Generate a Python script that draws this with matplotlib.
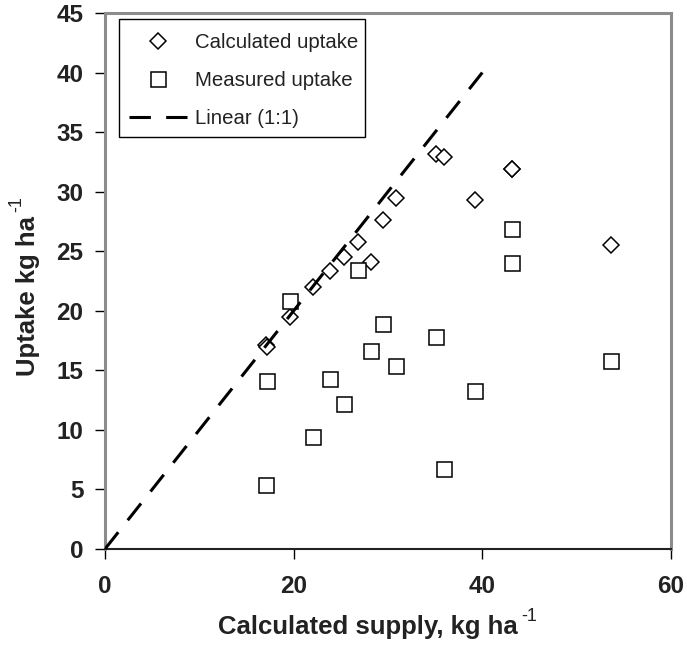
import matplotlib
matplotlib.use("Agg")
import matplotlib.pyplot as plt
from matplotlib.patches import Rectangle

plt.rcParams['font.family'] = ['Liberation Sans', 'DejaVu Sans']

# Calculated supply (x) for each plot, kg/ha
supply = [17.1, 17.2, 19.6, 22.0, 23.9, 25.3, 26.8, 28.2, 29.5,
          30.9, 35.1, 35.9, 39.2, 43.1, 43.1, 53.6]
# Calculated uptake for each plot, kg/ha
calc_uptake = [17.1, 17.0, 19.5, 22.0, 23.3, 24.5, 25.8, 24.1, 27.6,
               29.5, 33.2, 32.9, 29.3, 31.9, 31.9, 25.5]
# Measured uptake for each plot, kg/ha
meas_uptake = [5.4, 14.1, 20.8, 9.4, 14.3, 12.2, 23.4, 16.6, 18.9,
               15.4, 17.8, 6.7, 13.3, 26.9, 24.0, 15.8]
# 1:1 reference line
line_x = [0, 40]
line_y = [0, 40]

x_ticks = [0, 20, 40, 60]
y_ticks = [0, 5, 10, 15, 20, 25, 30, 35, 40, 45]

TXT = '#222222'

fig = plt.figure(figsize=(6.87, 6.5), dpi=100)
ax = fig.add_axes([0.1528, 0.1554, 0.8239, 0.8246])

ax.plot(supply, calc_uptake, linestyle='none', marker='D', markersize=8.5,
        markerfacecolor='white', markeredgecolor='black', markeredgewidth=1.1,
        label='Calculated uptake', zorder=3)
ax.plot(supply, meas_uptake, linestyle='none', marker='s', markersize=10.8,
        markerfacecolor='white', markeredgecolor='black', markeredgewidth=1.1,
        label='Measured uptake', zorder=3)
ax.plot(line_x, line_y, color='black', linewidth=2.2, dashes=(7, 5),
        label='Linear (1:1)', zorder=4)

ax.set_xlim(0, 60)
ax.set_ylim(0, 45)
ax.set_xticks(x_ticks)
ax.set_yticks(y_ticks)
ax.tick_params(axis='both', direction='out', length=7, width=1, color='black',
               labelsize=17.5, labelcolor=TXT)
ax.tick_params(axis='y', pad=8.5)
ax.tick_params(axis='x', pad=12)
for lab in ax.get_xticklabels() + ax.get_yticklabels():
    lab.set_fontweight('bold')

for side in ('top', 'right', 'left'):
    ax.spines[side].set_color('#8c8c8c')
    ax.spines[side].set_linewidth(2.2)
ax.spines['bottom'].set_color(TXT)
ax.spines['bottom'].set_linewidth(1.5)

# Axis titles with a small plain "-1" exponent
ax.set_xlabel('Calculated supply, kg ha', fontsize=18.5, fontweight='bold',
              color=TXT, labelpad=12)
ax.xaxis.label.set_x(0.4638)
ax.set_ylabel('Uptake kg ha', fontsize=18.5, fontweight='bold',
              color=TXT, labelpad=12)
ax.yaxis.label.set_y(0.472)
ax.annotate('-1', xy=(1, 0), xycoords=ax.xaxis.label, xytext=(3, 13.2),
            textcoords='offset points', ha='left', va='baseline',
            fontsize=13, color=TXT)
ax.annotate('-1', xy=(1, 1), xycoords=ax.yaxis.label, xytext=(-13.2, 3),
            textcoords='offset points', ha='left', va='baseline',
            rotation=90, rotation_mode='anchor', fontsize=13, color=TXT)

# Legend box drawn as a plain rectangle, entries placed inside it
ax.add_patch(Rectangle((0.0247, 0.769), 0.4346, 0.22, transform=ax.transAxes,
                       facecolor='white', edgecolor='black', linewidth=1.0,
                       zorder=5))
leg = ax.legend(loc='upper left', bbox_to_anchor=(0.0424, 0.962),
                borderaxespad=0, borderpad=0, fontsize=14.7, numpoints=1,
                handlelength=2.85, handletextpad=0.4, labelspacing=0.92,
                frameon=False)
leg.set_zorder(6)
for t in leg.get_texts():
    t.set_color(TXT)

fig.savefig('out.png', dpi=100, facecolor='white')
